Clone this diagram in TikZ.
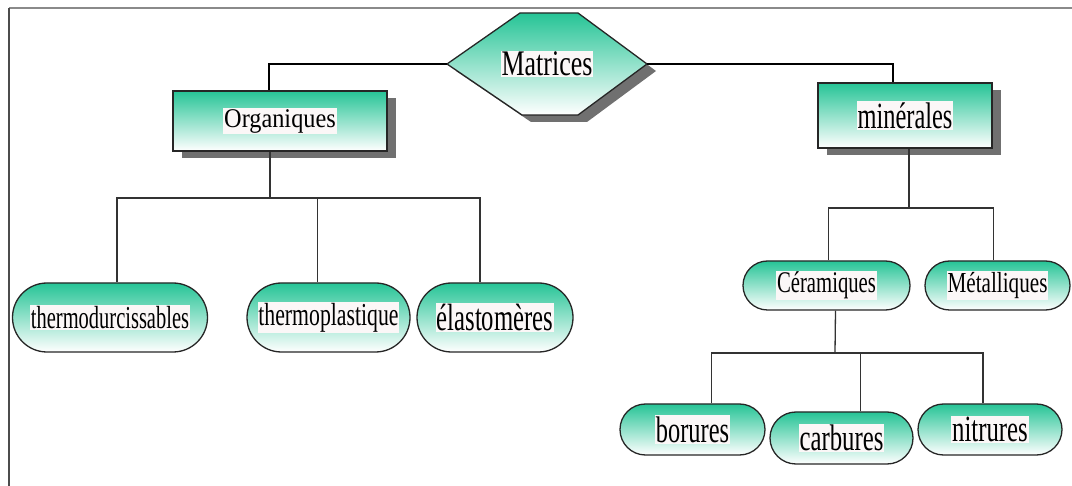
\documentclass[tikz,border=0pt]{standalone}
\usepackage{fontspec}
\setmainfont{Liberation Serif}
\usepackage{graphicx}
\usetikzlibrary{shapes.misc, shadows, positioning}
\definecolor{mintgreen}{HTML}{26C496}
\definecolor{framegray}{HTML}{8A8A8A}
\definecolor{shadegray}{HTML}{707070}
\definecolor{txtbg}{HTML}{FBF7F7}
\setlength{\fboxsep}{1pt}
% condensed label on a light patch
\newcommand{\tagtxt}[3]{\raisebox{-2pt}{\scalebox{#2}[1]{\colorbox{txtbg}{\fontsize{#1}{#1}\selectfont #3}}}}

\begin{document}
\begin{tikzpicture}[x=1pt,y=-1pt,
    greenfill/.style={top color=mintgreen, bottom color=white, draw=black!85, line width=1.3pt, inner sep=0pt},
    boxshadow/.style={drop shadow={shadow xshift=9pt, shadow yshift=-7pt, fill=shadegray, opacity=1}},
    headbox/.style={greenfill, boxshadow, rectangle},
    leafpill/.style={greenfill, rounded rectangle},
    mainlink/.style={black, line width=2pt},
    sublink/.style={black!80, line width=1.3pt}]
    \useasboundingbox (0,0) rectangle (1072,486);
    % frame
    \draw[framegray, line width=1.5pt] (9,8) -- (1072,8);
    \draw[black!70, line width=1.3pt] (9,8) -- (9,486);

    % root hexagon
    \coordinate (matW) at (447,64);
    \coordinate (matE) at (647,64);
    \path[greenfill, boxshadow] (matW) -- (520,13) -- (578,13) -- (matE) -- (578,115) -- (522,115) -- cycle;
    \node (mat) at (547,64) {\tagtxt{36}{0.72}{Matrices}};

    % first level
    \node[headbox, minimum width=214pt, minimum height=60pt] (org) at (280,121) {\tagtxt{27}{0.9}{Organiques}};
    \node[headbox, minimum width=174pt, minimum height=65pt] (mnr) at (905,115.5) {\tagtxt{37}{0.66}{minérales}};

    % organic branch
    \node[leafpill, minimum width=195pt, minimum height=69pt] (thd) at (110,317.5) {\tagtxt{32}{0.64}{thermodurcissables}};
    \node[leafpill, minimum width=163pt, minimum height=69pt] (thp) at (328.5,317.5) {\tagtxt{32}{0.68}{thermoplastique}};
    \node[leafpill, minimum width=156pt, minimum height=69pt] (ela) at (495,317.5) {\tagtxt{38}{0.65}{élastomères}};

    % mineral branch
    \node[leafpill, minimum width=167pt, minimum height=49pt] (cer) at (826.5,285.5) {\tagtxt{30}{0.69}{Céramiques}};
    \node[leafpill, minimum width=145pt, minimum height=49pt] (met) at (997.5,285.5) {\tagtxt{29}{0.73}{Métalliques}};
    \node[leafpill, minimum width=145pt, minimum height=51pt] (bor) at (692.5,429.5) {\tagtxt{37}{0.66}{borures}};
    \node[leafpill, minimum width=143pt, minimum height=52pt] (car) at (841.5,438) {\tagtxt{37}{0.67}{carbures}};
    \node[leafpill, minimum width=144pt, minimum height=51pt] (nit) at (990,429.5) {\tagtxt{37}{0.67}{nitrures}};

    % links from the root
    \draw[mainlink] (matW) -| ([xshift=-11pt]org.north);
    \draw[mainlink] (matE) -| ([xshift=-12pt]mnr.north);

    % organic bus
    \coordinate (busL) at (270,198);
    \draw[sublink] ([xshift=-10pt]org.south) -- (busL);
    \draw[sublink] ([xshift=7pt]thd.north) |- (busL);
    \draw[sublink] ([xshift=-11pt]thp.north) |- (busL);
    \draw[sublink] ([xshift=-15pt]ela.north) |- (busL);

    % mineral bus
    \coordinate (busR) at (909,208);
    \draw[sublink] ([xshift=4pt]mnr.south) -- (busR);
    \draw[sublink] ([xshift=2pt]cer.north) |- (busR);
    \draw[sublink] ([xshift=-4pt]met.north) |- (busR);

    % ceramic bus
    \coordinate (busC) at (835,353);
    \draw[sublink] ([xshift=9pt]cer.south) -- (busC);
    \draw[sublink] ([xshift=19pt]bor.north) |- (busC);
    \draw[sublink] ([xshift=19pt]car.north) |- (busC);
    \draw[sublink] ([xshift=-7pt]nit.north) |- (busC);
\end{tikzpicture}
\end{document}
